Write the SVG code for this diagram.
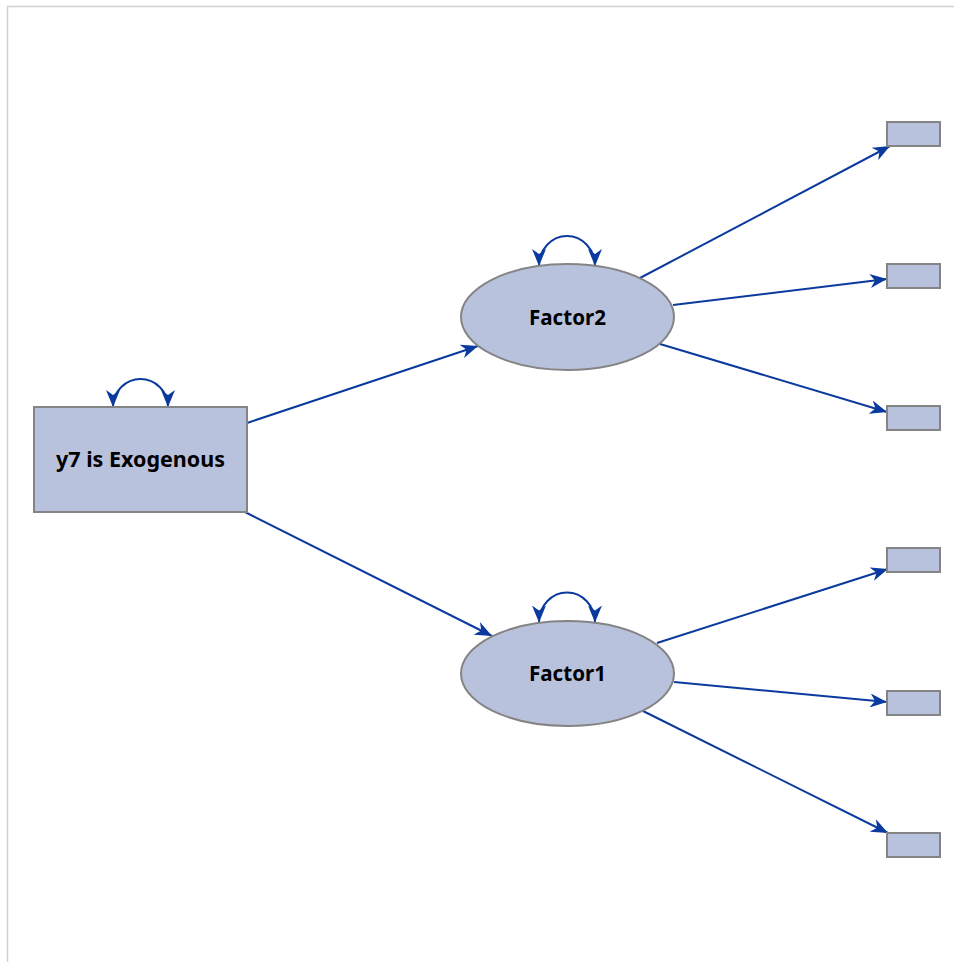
<svg xmlns="http://www.w3.org/2000/svg" width="954" height="962" viewBox="0 0 954 962">
<style>
.node{fill:#b9c2dc;stroke:#848484;stroke-width:2}
.lbl{font-family:"Noto Sans","Liberation Sans",sans-serif;font-weight:bold;font-size:21px;fill:#000;text-anchor:middle}
.edge{fill:none;stroke:#0a3a9e;stroke-width:2}
</style>
<defs>
<marker id="ah" markerUnits="userSpaceOnUse" markerWidth="18" markerHeight="14" refX="17" refY="7" orient="auto-start-reverse" viewBox="0 0 18 14">
<path d="M0,0 L17,7 L0,14 L5,7 Z" fill="#0a3a9e"/>
</marker>
</defs>
<rect x="0" y="0" width="954" height="962" fill="#fff"/>
<path d="M7.5,962 L7.5,6.5 L954,6.5" fill="none" stroke="#d0d0d0" stroke-width="1.5"/>
<g id="connectors">
<path class="edge" d="M247,423 L478,346" marker-end="url(#ah)"/>
<path class="edge" d="M245,512 L492,636" marker-end="url(#ah)"/>
<path class="edge" d="M640,278 L890,146" marker-end="url(#ah)"/>
<path class="edge" d="M673,305 L887,279" marker-end="url(#ah)"/>
<path class="edge" d="M660,344 L887,412" marker-end="url(#ah)"/>
<path class="edge" d="M657,643 L888,569" marker-end="url(#ah)"/>
<path class="edge" d="M674,682 L887,702" marker-end="url(#ah)"/>
<path class="edge" d="M643,711 L888,833" marker-end="url(#ah)"/>
<path class="edge" d="M113,407 A27.5,28 0 0 1 168,407" marker-start="url(#ah)" marker-end="url(#ah)"/>
<path class="edge" d="M539,266 A28,30 0 0 1 595,266" marker-start="url(#ah)" marker-end="url(#ah)"/>
<path class="edge" d="M539,622.5 A28,30 0 0 1 595,622.5" marker-start="url(#ah)" marker-end="url(#ah)"/>
</g>
<g id="y7">
<rect class="node" x="34" y="407" width="213" height="105"/>
<text class="lbl" x="140.5" y="467" textLength="169" lengthAdjust="spacingAndGlyphs">y7 is Exogenous</text>
</g>
<g id="Factor2">
<ellipse class="node" cx="567.5" cy="317" rx="106.5" ry="53"/>
<text class="lbl" x="567.5" y="325" textLength="77" lengthAdjust="spacingAndGlyphs">Factor2</text>
</g>
<g id="Factor1">
<ellipse class="node" cx="567.5" cy="673.5" rx="106.5" ry="52.5"/>
<text class="lbl" x="567.5" y="681" textLength="77" lengthAdjust="spacingAndGlyphs">Factor1</text>
</g>
<g id="v1"><rect class="node" x="887" y="122" width="53" height="24"/></g>
<g id="v2"><rect class="node" x="887" y="264" width="53" height="24"/></g>
<g id="v3"><rect class="node" x="887" y="406" width="53" height="24"/></g>
<g id="v4"><rect class="node" x="887" y="548" width="53" height="24"/></g>
<g id="v5"><rect class="node" x="887" y="691" width="53" height="24"/></g>
<g id="v6"><rect class="node" x="887" y="833" width="53" height="24"/></g>
</svg>
